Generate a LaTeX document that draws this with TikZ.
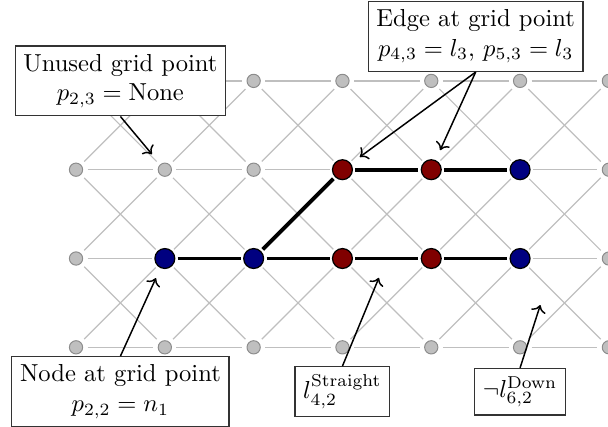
\documentclass[tikz,border=0pt]{standalone}
\usepackage{tikz}
\usetikzlibrary{arrows.meta,calc}

\definecolor{nodeblue}{RGB}{0,0,128}
\definecolor{edgered}{RGB}{128,0,0}

\tikzset{
  gridpt/.style={circle,inner sep=0pt,minimum size=5.4pt,outer sep=2pt,fill=black!25,draw=black!45,line width=0.4pt},
  nodept/.style={circle,inner sep=0pt,minimum size=8.1pt,outer sep=1.2pt,fill=nodeblue,draw=black,line width=0.5pt},
  edgept/.style={nodept,fill=edgered},
  gridline/.style={black!25,line width=0.5pt},
  pathline/.style={black,line width=1.6pt},
  labelbox/.style={draw=black!80,fill=white,line width=0.5pt,align=center},
  pointer/.style={->,semithick,shorten >=3.5pt}
}

\begin{document}
\begin{tikzpicture}[x=1.27cm,y=1.27cm,>=To]
\useasboundingbox (0.144,0.114) rectangle (6.99,4.911);

% grid points, the used ones on top
\foreach \i in {1,...,7}
  \foreach \j in {1,...,4}
    \node[gridpt] (p-\i-\j) at (\i,\j) {};
\foreach \i/\j in {2/2,3/2,6/2,6/3}
  \node[nodept] (p-\i-\j) at (\i,\j) {};
\foreach \i/\j in {4/2,5/2,4/3,5/3}
  \node[edgept] (p-\i-\j) at (\i,\j) {};

% grid lines
\foreach \i in {1,...,6} {
  \pgfmathtruncatemacro\k{\i+1}
  \foreach \j in {1,...,4}
    \draw[gridline] (p-\i-\j) -- (p-\k-\j);
  \foreach \j in {1,...,3} {
    \pgfmathtruncatemacro\m{\j+1}
    \draw[gridline] (p-\i-\j) -- (p-\k-\m);
    \draw[gridline] (p-\i-\m) -- (p-\k-\j);
  }
}

% used edges
\foreach \a/\b in {2-2/3-2,3-2/4-2,4-2/5-2,5-2/6-2,3-2/4-3,4-3/5-3,5-3/6-3}
  \draw[pathline] (p-\a) -- (p-\b);

% labels
\node[labelbox] (unused) at (1.5,4) {Unused grid point\\$p_{2,3} = \mathrm{None}$};
\node[labelbox] (edgelbl) at (5.5,4.5) {Edge at grid point\\$p_{4,3} = l_3$, $p_{5,3} = l_3$};
\node[labelbox] (nodelbl) at (1.5,0.5) {Node at grid point\\$p_{2,2} = n_1$};
\node[labelbox] (straight) at (4,0.5) {$l^{\mathrm{Straight}}_{4,2}$};
\node[labelbox] (down) at (6,0.5) {$\neg l^{\mathrm{Down}}_{6,2}$};

\coordinate (straightmid) at ($(p-4-2)!0.5!(p-5-2)$);
\coordinate (downpt) at ($(p-6-2)!0.3!(p-7-1)$);

\draw[pointer] (unused.south) -- (p-2-3);
\draw[pointer] (edgelbl.south) -- (p-4-3);
\draw[pointer] (edgelbl.south) -- (p-5-3);
\draw[pointer] (nodelbl.north) -- (p-2-2);
\draw[pointer,shorten >=8.5pt] (straight.north) -- (straightmid);
\draw[pointer,shorten >=8.5pt] (down.north) -- (downpt);
\end{tikzpicture}
\end{document}
